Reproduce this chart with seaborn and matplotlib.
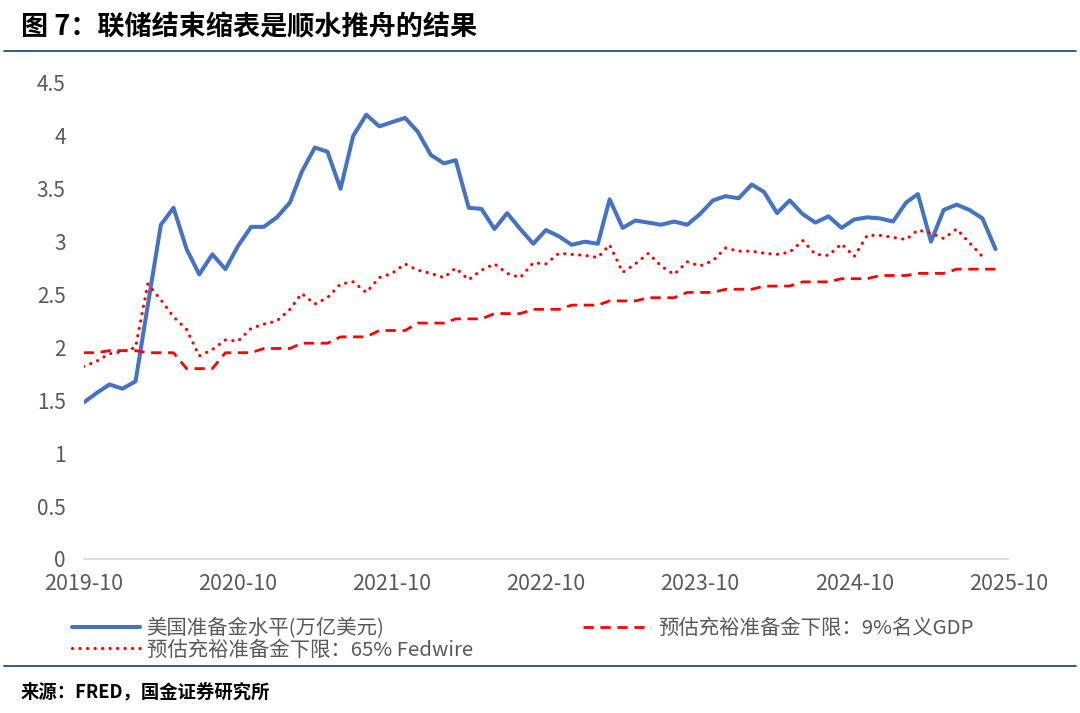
import pandas as pd
import matplotlib.pyplot as plt
import matplotlib.dates as mdates
import seaborn as sns

# monthly data, 2019-10 .. 2025-09
months = pd.date_range('2019-10-01', periods=72, freq='MS')

reserves = [1.48, 1.57, 1.65, 1.61, 1.68, 2.40, 3.16, 3.32, 2.93, 2.69, 2.88, 2.74,
            2.96, 3.14, 3.14, 3.23, 3.37, 3.66, 3.89, 3.85, 3.50, 4.00, 4.20, 4.09,
            4.13, 4.17, 4.04, 3.82, 3.74, 3.77, 3.32, 3.31, 3.12, 3.27, 3.12, 2.98,
            3.11, 3.05, 2.97, 3.00, 2.98, 3.40, 3.13, 3.20, 3.18, 3.16, 3.19, 3.16,
            3.26, 3.39, 3.43, 3.41, 3.54, 3.47, 3.27, 3.39, 3.26, 3.18, 3.24, 3.13,
            3.21, 3.23, 3.22, 3.19, 3.37, 3.45, 3.00, 3.30, 3.35, 3.30, 3.22, 2.93]

gdp_floor = [1.95, 1.95, 1.97, 1.97, 1.97, 1.95, 1.95, 1.95, 1.80, 1.80, 1.80, 1.95,
             1.95, 1.95, 1.99, 1.99, 1.99, 2.04, 2.04, 2.04, 2.10, 2.10, 2.10, 2.16,
             2.16, 2.16, 2.23, 2.23, 2.23, 2.27, 2.27, 2.27, 2.32, 2.32, 2.32, 2.36,
             2.36, 2.36, 2.40, 2.40, 2.40, 2.44, 2.44, 2.44, 2.47, 2.47, 2.47, 2.52,
             2.52, 2.52, 2.55, 2.55, 2.55, 2.58, 2.58, 2.58, 2.62, 2.62, 2.62, 2.65,
             2.65, 2.65, 2.68, 2.68, 2.68, 2.70, 2.70, 2.70, 2.74, 2.74, 2.74, 2.74]

fedwire_floor = [1.82, 1.87, 1.94, 1.96, 2.00, 2.60, 2.45, 2.29, 2.17, 1.92, 1.98, 2.07,
                 2.06, 2.18, 2.22, 2.25, 2.36, 2.51, 2.41, 2.47, 2.60, 2.62, 2.52, 2.66,
                 2.70, 2.79, 2.73, 2.70, 2.66, 2.75, 2.64, 2.73, 2.79, 2.70, 2.66, 2.80,
                 2.79, 2.89, 2.88, 2.87, 2.85, 2.97, 2.71, 2.79, 2.89, 2.77, 2.69, 2.81,
                 2.77, 2.82, 2.94, 2.91, 2.91, 2.89, 2.88, 2.90, 3.01, 2.88, 2.87, 2.98,
                 2.86, 3.06, 3.06, 3.04, 3.02, 3.11, 3.08, 3.03, 3.12, 2.99, 2.86]

labels = ['美国准备金水平(万亿美元)', '预估充裕准备金下限：9%名义GDP', '预估充裕准备金下限：65% Fedwire']
year_ticks = pd.date_range('2019-10-01', '2025-10-01', freq='12MS')

sns.set_theme(style='white')
plt.rcParams['font.family'] = ['Noto Sans CJK SC', 'DejaVu Sans']

fig = plt.figure(figsize=(10.8, 7.13), dpi=100)
ax = fig.add_axes([0.0775, 0.2160, 0.8560, 0.6676])

df_res = pd.DataFrame({'date': months, 'v': reserves})
df_gdp = pd.DataFrame({'date': months, 'v': gdp_floor})
df_fw = pd.DataFrame({'date': months[:len(fedwire_floor)], 'v': fedwire_floor})

sns.lineplot(data=df_res, x='date', y='v', ax=ax, color='#4472C4', linewidth=2.9,
             label=labels[0])
l_fw = sns.lineplot(data=df_fw, x='date', y='v', ax=ax, color='#FF0000', linewidth=2.3,
                    label=labels[2]).lines[-1]
l_fw.set_linestyle((0, (0.05, 2.3)))
l_fw.set_dash_capstyle('round')
l_gdp = sns.lineplot(data=df_gdp, x='date', y='v', ax=ax, color='#FF0000', linewidth=2.0,
                     label=labels[1]).lines[-1]
l_gdp.set_linestyle((0, (3.7, 2.4)))

ax.set_xlim(months[0], pd.Timestamp('2025-10-01'))
ax.set_ylim(0, 4.5)
ax.set_yticks([0, 0.5, 1, 1.5, 2, 2.5, 3, 3.5, 4, 4.5])
ax.set_yticklabels(['0', '0.5', '1', '1.5', '2', '2.5', '3', '3.5', '4', '4.5'])
ax.set_xticks(year_ticks)
ax.xaxis.set_major_formatter(mdates.DateFormatter('%Y-%m'))
ax.set_xlabel('')
ax.set_ylabel('')
for s in ['top', 'right', 'left']:
    ax.spines[s].set_visible(False)
ax.spines['bottom'].set_color('#d9d9d9')
ax.spines['bottom'].set_linewidth(1.3)
ax.tick_params(axis='x', direction='out', length=5, width=1.3, color='#d9d9d9',
               labelsize=15.5, labelcolor='#595959', pad=5)
ax.tick_params(axis='y', length=0, labelsize=15, labelcolor='#595959', pad=13)

h, l = ax.get_legend_handles_labels()
leg = ax.legend(h, l, ncol=2, loc='upper left',
                bbox_to_anchor=(-0.022, -0.106), frameon=False, fontsize=14.7,
                handlelength=3.33, handletextpad=0.35, columnspacing=5.4,
                labelspacing=0.04, borderaxespad=0)
for t in leg.get_texts():
    t.set_color('#595959')

fig.text(0.019, 0.962, '图 7：联储结束缩表是顺水推舟的结果', fontsize=19.5, fontweight='bold',
         va='center', ha='left', color='black')
fig.add_artist(plt.Line2D([0.004, 0.996], [0.929, 0.929], color='#1f4e79', linewidth=1.3))
fig.add_artist(plt.Line2D([0.004, 0.996], [0.066, 0.066], color='#1f4e79', linewidth=1.3))
fig.text(0.019, 0.029, '来源：FRED，国金证券研究所', fontsize=13.2, fontweight='bold',
         va='center', ha='left', color='black')

fig.savefig('out.png', dpi=100)
